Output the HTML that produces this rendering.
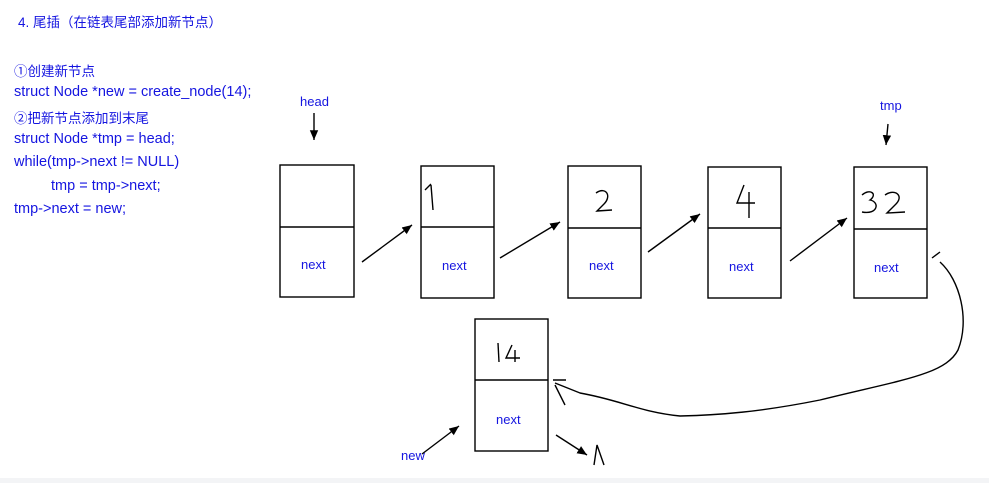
<!DOCTYPE html>
<html><head><meta charset="utf-8"><style>
body{margin:0;width:989px;height:483px;background:#fff;overflow:hidden;position:relative;font-family:"Liberation Sans","Noto Sans CJK SC",sans-serif;}
.t{position:absolute;color:#1515e0;font-size:14.5px;white-space:nowrap;}
</style></head><body>
<div class="t" style="left:18px;top:11px;font-size:13.5px">4. 尾插（在链表尾部添加新节点）</div>
<div class="t" style="left:14px;top:60px;font-size:13.5px">①创建新节点</div>
<div class="t" style="left:14px;top:84px;">struct Node *new = create_node(14);</div>
<div class="t" style="left:14px;top:107px;font-size:13.5px">②把新节点添加到末尾</div>
<div class="t" style="left:14px;top:131px;">struct Node *tmp = head;</div>
<div class="t" style="left:14px;top:154px;">while(tmp-&gt;next != NULL)</div>
<div class="t" style="left:51px;top:178px;">tmp = tmp-&gt;next;</div>
<div class="t" style="left:14px;top:201px;">tmp-&gt;next = new;</div>
<div style="position:absolute;left:0;top:478px;width:989px;height:5px;background:#f3f4f6"></div>
<svg width="989" height="483" style="position:absolute;left:0;top:0" xmlns="http://www.w3.org/2000/svg">
<defs><marker id="a" markerWidth="8" markerHeight="8" refX="7" refY="4" orient="auto"><path d="M0,1 L7,4 L0,7Z" fill="#000"/></marker></defs>
<g fill="none" stroke="#000" stroke-width="1.4">
<rect x="280" y="165" width="74" height="132"/><line x1="280" y1="227" x2="354" y2="227"/>
<rect x="421" y="166" width="73" height="132"/><line x1="421" y1="227" x2="494" y2="227"/>
<rect x="568" y="166" width="73" height="132"/><line x1="568" y1="228" x2="641" y2="228"/>
<rect x="708" y="167" width="73" height="131"/><line x1="708" y1="228" x2="781" y2="228"/>
<rect x="854" y="167" width="73" height="131"/><line x1="854" y1="229" x2="927" y2="229"/>
<rect x="475" y="319" width="73" height="132"/><line x1="475" y1="380" x2="548" y2="380"/>
<line x1="314" y1="113" x2="314" y2="140" marker-end="url(#a)"/>
<line x1="888" y1="124" x2="886" y2="145" marker-end="url(#a)"/>
<line x1="362" y1="262" x2="412" y2="225" marker-end="url(#a)"/>
<line x1="500" y1="258" x2="560" y2="222" marker-end="url(#a)"/>
<line x1="648" y1="252" x2="700" y2="214" marker-end="url(#a)"/>
<line x1="790" y1="261" x2="847" y2="218" marker-end="url(#a)"/>
<line x1="422" y1="454" x2="459" y2="426" marker-end="url(#a)"/>
<line x1="556" y1="435" x2="587" y2="455" marker-end="url(#a)"/>
<path d="M594,465 L597,445 L604,465"/>
<line x1="932" y1="258" x2="940" y2="252"/>
<path d="M940,262 C960,280 970,320 958,350 C945,375 900,380 820,400 C760,412 720,415 680,416 C640,412 620,400 580,393 C570,389 560,385 555,383"/>
<path d="M553,380 L566,380 M555,385 L565,405"/>
<path d="M431,185 L433,210 M425,190 L431,184"/>
<path d="M596,193 C606,186 612,196 604,204 L597,211 L612,210"/>
<path d="M744,185 L737,203 L755,203 M749,192 L749,218"/>
<path d="M862,195 C870,188 878,194 870,200 C880,202 878,215 862,212"/>
<path d="M885,195 C895,188 905,196 895,205 L887,213 L905,212"/>
<path d="M498,343 L499,362"/>
<path d="M512,345 L506,358 L520,358 M515,350 L515,362"/>
</g>
<g font-family="Liberation Sans,sans-serif" font-size="13" fill="#1515e0">
<text x="300" y="106">head</text><text x="880" y="110">tmp</text>
<text x="301" y="269">next</text><text x="442" y="270">next</text><text x="589" y="270">next</text>
<text x="729" y="271">next</text><text x="874" y="272">next</text><text x="496" y="424">next</text>
<text x="401" y="460">new</text>
</g>
</svg>
</body></html>
